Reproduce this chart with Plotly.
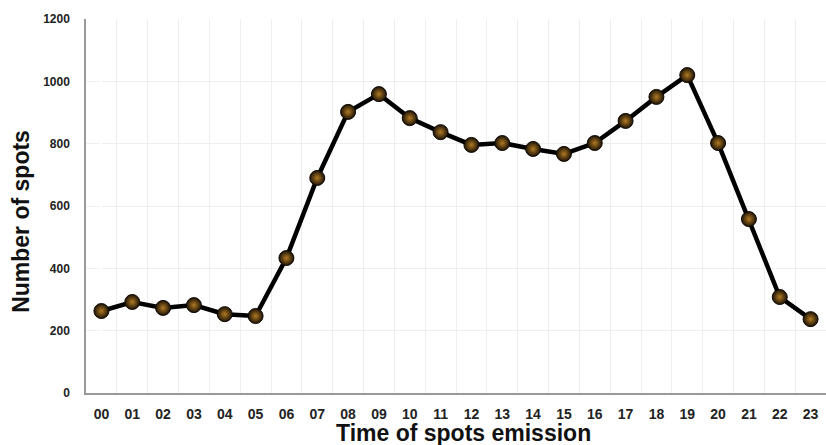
import plotly.graph_objects as go

hours = ["00","01","02","03","04","05","06","07","08","09","10","11",
         "12","13","14","15","16","17","18","19","20","21","22","23"]
spots = [263, 292, 273, 282, 253, 247, 433, 690, 902, 959, 882, 837,
         796, 802, 783, 767, 802, 873, 950, 1020, 802, 558, 308, 237]
y_ticks = [0, 200, 400, 600, 800, 1000, 1200]
x_title = "Time of spots emission"
y_title = "Number of spots"

fig = go.Figure()
fig.add_trace(go.Scatter(
    x=list(range(len(hours))), y=spots, mode="lines+markers",
    line=dict(color="#000000", width=4.5),
    marker=dict(size=15, color="#1c1206",
                gradient=dict(type="radial", color="#b07a22"),
                line=dict(color="#0e0802", width=1)),
    showlegend=False,
))

fig.update_layout(
    width=826, height=445,
    margin=dict(l=86, r=0, t=19, b=52),
    paper_bgcolor="white", plot_bgcolor="white",
    font=dict(family="Arial, Liberation Sans, sans-serif", color="#1a1a1a"),
    annotations=[
        dict(text="<b>%s</b>" % x_title, xref="paper", yref="paper",
             x=0.51, y=-0.107, xanchor="center", yanchor="middle",
             showarrow=False, font=dict(size=23, color="#111")),
        dict(text="<b>%s</b>" % y_title, xref="paper", yref="paper",
             x=-0.088, y=0.46, xanchor="center", yanchor="middle",
             textangle=-90, showarrow=False, font=dict(size=23, color="#111")),
    ],
)
fig.update_xaxes(
    tickmode="array", tickvals=list(range(len(hours))), ticktext=["<b>%s</b>" % h for h in hours],
    range=[-0.5, len(hours) - 0.5],
    tickfont=dict(size=14, color="#222"),
    showgrid=False, showline=True, linecolor="#999999", linewidth=1.5,
    ticks="outside", ticklen=7, tickcolor="rgba(0,0,0,0)",
    minor=dict(tickmode="array", tickvals=[i + 0.5 for i in range(-1, len(hours))],
               showgrid=True, gridcolor="#efefef", gridwidth=1),
)
fig.update_yaxes(
    range=[0, 1200], tickmode="array", tickvals=y_ticks,
    ticktext=["<b>%d</b>" % v for v in y_ticks],
    tickfont=dict(size=12, color="#222"),
    showgrid=True, gridcolor="#efefef", gridwidth=1,
    showline=True, linecolor="#999999", linewidth=1.5,
    zeroline=False, ticks="outside", ticklen=12, tickcolor="rgba(0,0,0,0)",
)

fig.write_html("out.html")
